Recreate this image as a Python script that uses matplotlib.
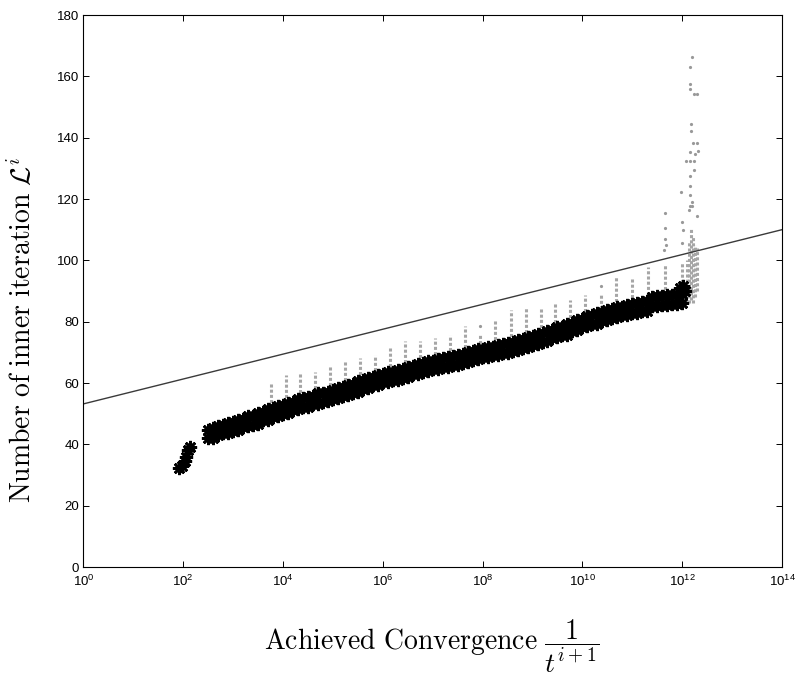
import matplotlib
matplotlib.use('Agg')
import matplotlib.pyplot as plt
import numpy as np

plt.rcParams['font.family'] = ['Liberation Sans', 'DejaVu Sans']

# first few outer iterations (black asterisks near 1e2)
start_exp = [1.92, 1.98, 2.03, 2.06, 2.10, 2.14]
start_val = [32.3, 32.8, 34.5, 36.0, 38.2, 39.0]

# main band of black asterisks: log10 of convergence, lower and upper rows
band_exp = [2.5, 2.6, 2.7, 2.8, 2.9, 3.0, 3.1, 3.2, 3.3, 3.4, 3.5, 3.6, 3.7, 3.8, 3.9,
            4.0, 4.1, 4.2, 4.3, 4.4, 4.5, 4.6, 4.7, 4.8, 4.9, 5.0, 5.1, 5.2, 5.3, 5.4,
            5.5, 5.6, 5.7, 5.8, 5.9, 6.0, 6.1, 6.2, 6.3, 6.4, 6.5, 6.6, 6.7, 6.8, 6.9,
            7.0, 7.1, 7.2, 7.3, 7.4, 7.5, 7.6, 7.7, 7.8, 7.9, 8.0, 8.1, 8.2, 8.3, 8.4,
            8.5, 8.6, 8.7, 8.8, 8.9, 9.0, 9.1, 9.2, 9.3, 9.4, 9.5, 9.6, 9.7, 9.8, 9.9,
            10.0, 10.1, 10.2, 10.3, 10.4, 10.5, 10.6, 10.7, 10.8, 10.9, 11.0, 11.1, 11.2,
            11.3, 11.4, 11.5, 11.6, 11.7, 11.8, 11.9, 12.0]
band_lo = [42.0, 42.1, 42.9, 43.6, 43.7, 44.4, 44.6, 45.6, 45.9, 46.4, 46.8, 47.8, 48.1, 48.9, 49.1,
           49.9, 50.3, 51.1, 51.5, 52.2, 52.3, 53.1, 53.3, 53.9, 54.0, 54.8, 55.1, 55.9, 56.1, 56.9,
           57.2, 58.1, 58.3, 59.2, 59.4, 60.2, 60.3, 60.9, 61.0, 61.8, 61.9, 62.8, 62.9, 63.6, 63.8,
           64.5, 64.5, 65.2, 65.3, 66.0, 66.0, 66.6, 66.7, 67.5, 67.7, 68.4, 68.4, 69.1, 69.2, 69.8,
           69.8, 70.5, 70.7, 71.5, 71.7, 72.5, 72.6, 73.4, 73.6, 74.6, 74.9, 75.6, 75.8, 76.8, 77.2,
           78.2, 78.5, 79.3, 79.4, 80.2, 80.4, 81.2, 81.4, 82.1, 82.2, 82.9, 82.9, 83.6,
           83.6, 85.1, 85.1, 85.5, 85.3, 85.8, 85.7, 86.2]
band_hi = [44.6, 45.3, 45.9, 46.4, 46.9, 47.2, 47.9, 48.4, 49.1, 49.2, 50.1, 50.6, 51.4, 51.7, 52.4,
           52.7, 53.6, 53.9, 54.8, 55.0, 55.6, 55.9, 56.6, 56.7, 57.2, 57.6, 58.4, 58.7, 59.4, 59.7,
           60.5, 60.9, 61.6, 62.0, 62.7, 63.0, 63.6, 63.7, 64.3, 64.6, 65.2, 65.6, 66.2, 66.4, 67.1,
           67.3, 67.8, 68.0, 68.6, 68.8, 69.3, 69.4, 70.0, 70.3, 71.0, 71.2, 71.7, 71.9, 72.5, 72.6,
           73.1, 73.3, 74.0, 74.3, 75.0, 75.3, 75.9, 76.2, 76.9, 77.4, 78.2, 78.4, 79.1, 79.6, 80.5,
           81.0, 81.8, 82.1, 82.7, 83.0, 83.7, 84.0, 84.7, 84.9, 85.5, 85.7, 86.2, 86.4,
           86.9, 88.0, 88.3, 88.4, 88.6, 88.7, 89.0, 89.0]
bump_exp = [11.95, 12.02, 12.05]
bump_val = [91.0, 91.5, 90.0]

# grey streaks (vertical runs of small dots)
streak_exp = [3.76, 4.06, 4.34, 4.64, 4.94, 5.24, 5.55, 5.85, 6.15, 6.45, 6.75, 7.05, 7.35,
              7.65, 7.95, 8.25, 8.56, 8.86, 9.16, 9.46, 9.76, 10.06, 10.38, 10.68, 11.00,
              11.32, 11.66, 12.00, 12.09, 12.13, 12.17, 12.21, 12.25, 12.29]
streak_lo = [50.1, 51.8, 53.4, 54.7, 55.8, 57.5, 59.2, 60.8, 62.1, 63.4, 64.8, 66.0, 67.2,
             68.2, 69.6, 70.7, 71.7, 73.2, 74.6, 76.4, 77.9, 79.9, 81.0, 83.0, 84.3,
             85.5, 87.0, 87.6, 86.0, 86.0, 87.0, 86.0, 88.0, 90.0]
streak_hi = [59.9, 62.6, 63.7, 63.7, 65.9, 67.2, 68.1, 69.1, 71.5, 73.7, 73.7, 74.8, 75.8,
             78.6, 76.0, 80.5, 83.7, 84.7, 84.7, 86.5, 87.1, 88.7, 89.0, 94.7, 94.7,
             97.9, 98.5, 99.5, 100.0, 106.0, 110.5, 108.0, 105.0, 104.0]

# isolated grey dots
dot_exp = [7.95, 10.38, 11.66, 11.66, 11.65, 11.67, 11.64, 11.97, 11.99, 12.00, 12.01, 12.20,
           12.15, 12.15, 12.15, 12.23, 12.30, 12.17, 12.17, 12.22, 12.30, 12.15, 12.25, 12.32,
           12.07, 12.15, 12.24, 12.24, 12.15, 12.15, 12.15, 12.15, 12.20, 12.30, 12.13, 12.19]
dot_val = [78.6, 91.6, 115.3, 110.4, 107.0, 105.0, 103.3, 122.4, 105.6, 112.6, 110.0, 166.4,
           163.2, 157.6, 155.8, 154.4, 154.2, 144.4, 142.3, 138.4, 138.4, 135.4, 134.6, 135.8,
           132.4, 132.4, 132.3, 129.5, 127.5, 124.3, 121.4, 117.8, 117.6, 114.6, 116.5, 119.0]

# reference line
line_exp = [0, 14]
line_val = [53.2, 110.0]

xtick_exp = [0, 2, 4, 6, 8, 10, 12, 14]
xtick_labels = [r'$\mathregular{10^{%d}}$' % e for e in xtick_exp]
yticks = [0, 20, 40, 60, 80, 100, 120, 140, 160, 180]

fig = plt.figure(figsize=(7.99, 6.76), dpi=100)
ax = fig.add_axes([0.1045, 0.1612, 0.8742, 0.8166])

ax.vlines(np.power(10.0, streak_exp), streak_lo, streak_hi, colors='#a6a6a6',
          linewidth=2.2, linestyles=(0, (1.0, 0.7)))
ax.plot(np.power(10.0, dot_exp), dot_val, linestyle='none', marker='o',
        markersize=2.3, color='#999999', markeredgewidth=0)

ast = dict(linestyle='none', marker=(8, 2, 0), markersize=9.5, markeredgewidth=1.9, color='k')
ax.plot(np.power(10.0, band_exp), band_lo, **ast)
ax.plot(np.power(10.0, band_exp), band_hi, **ast)
ax.plot(np.power(10.0, start_exp), start_val, **ast)
ax.plot(np.power(10.0, bump_exp), bump_val, **ast)

ax.plot(np.power(10.0, line_exp), line_val, color='#3a3a3a', linewidth=1.0)

ax.set_xscale('log')
ax.set_xlim(1, 1e14)
ax.set_ylim(0, 180)
ax.set_xticks(np.power(10.0, xtick_exp))
ax.set_xticklabels(xtick_labels)
ax.xaxis.set_minor_locator(matplotlib.ticker.NullLocator())
ax.set_yticks(yticks)
ax.tick_params(direction='in', top=True, right=True, length=4, width=0.7,
               labelsize=9.5, colors='k')
ax.tick_params(axis='x', pad=5)
ax.tick_params(axis='y', pad=3)
for s in ax.spines.values():
    s.set_linewidth(0.8)

fig.text(0.54, 1 - 646 / 676, r'$\mathrm{Achieved\ Convergence}\ \dfrac{1}{t^{i+1}}$',
         ha='center', va='center', fontsize=20, math_fontfamily='cm')
fig.text(22 / 799, 1 - 330 / 676, r'$\mathrm{Number\ of\ inner\ iteration}\ \mathcal{L}^i$',
         ha='center', va='center', rotation=90, fontsize=20, math_fontfamily='cm')

fig.savefig('out.png', dpi=100)
